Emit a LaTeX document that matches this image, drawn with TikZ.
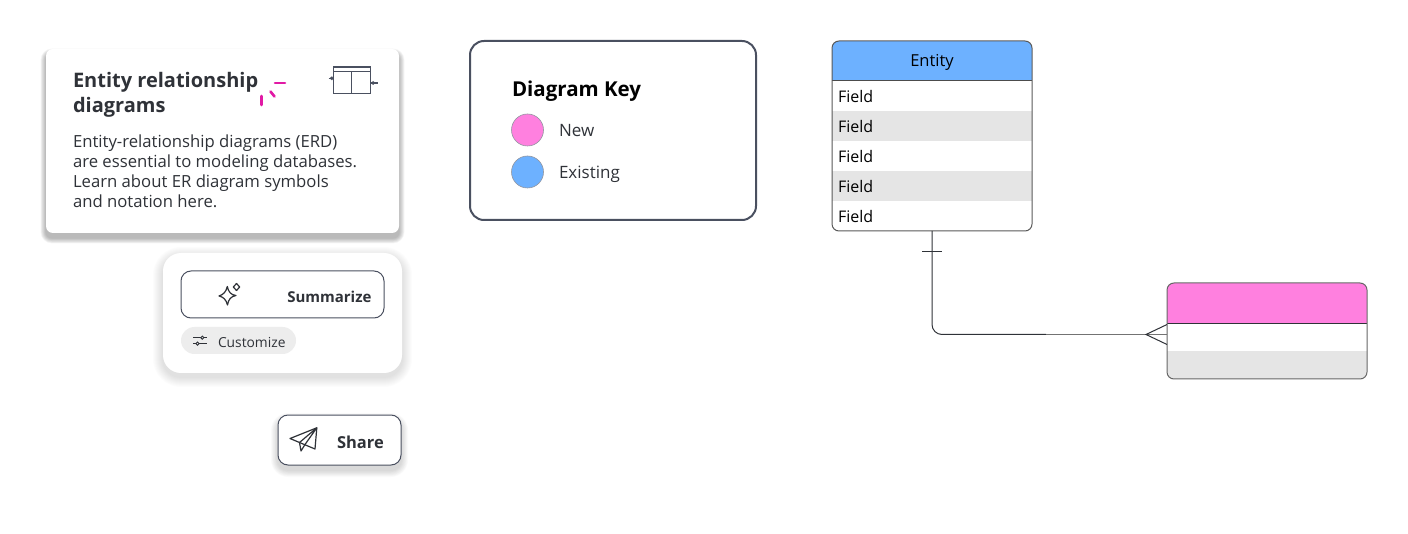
\documentclass[tikz,border=0pt]{standalone}
\usepackage{fontspec}
\setmainfont{Open Sans}
\usetikzlibrary{positioning}

\definecolor{inkdark}{HTML}{2F3238}
\definecolor{edgegrey}{HTML}{4A5060}
\definecolor{keypink}{HTML}{FF80DF}
\definecolor{keyblue}{HTML}{6DB1FF}
\definecolor{rowgrey}{HTML}{E5E5E5}
\definecolor{sparkpink}{HTML}{E11AA5}

\newcommand{\softshadow}[8]{% x1 y1 x2 y2 radius drop strength step
    \foreach \g in {1,...,10}
        \fill[black, opacity=#7, rounded corners=#5+\g*#8]
            (#1-\g*#8,#2-\g*#8+#6) rectangle (#3+\g*#8,#4+\g*#8+#6);
}

\tikzset{
    every node/.style={outer sep=0pt},
    lbl/.style={inner sep=0pt, anchor=base west, text=inkdark},
    card/.style={fill=white, rounded corners=#1},
    fieldrow/.style={minimum width=200pt, minimum height=30pt, inner xsep=6pt, inner ysep=0pt,
        anchor=north west, text width=188pt, align=left, font=\fontsize{16}{18}\selectfont},
    keydot/.style={circle, minimum size=32pt, inner sep=0pt, draw=edgegrey!60, line width=.6pt},
    icon/.style={draw=inkdark, line width=1.2pt, line join=round},
    spark/.style={sparkpink, line width=2.6pt, line cap=round},
    tabicon/.style={edgegrey, line width=1.2pt},
}

\begin{document}
\begin{tikzpicture}[x=1pt, y=-1pt]
    \useasboundingbox (0,0) rectangle (1408,534);

    % Overview card
    \softshadow{46}{49}{399}{233}{6}{5}{0.03}{0.55}
    \fill[card=7] (46,49) rectangle (399,233);
    \node[lbl, anchor=north west, align=left, font=\fontsize{20}{25}\selectfont\bfseries] (title) at (73,72)
        {Entity relationship\\diagrams};
    \node[lbl, anchor=north west, align=left, font=\fontsize{16.7}{20}\selectfont] (about) at (73,134.5)
        {Entity-relationship diagrams (ERD)\\are essential to modeling databases.\\Learn about ER diagram symbols\\and notation here.};

    % Spark next to the title
    \draw[spark] (275,83) -- (285,83);
    \draw[spark] (270.5,91.5) -- (274.5,96.5);
    \draw[spark] (261.7,96) -- (261.7,105);

    % Table icon
    \draw[tabicon] (333.5,67) rectangle (370.7,93.3);
    \draw[tabicon] (333.5,71.5) -- (370.7,71.5);
    \draw[tabicon] (351.7,71.5) -- (351.7,93.3);
    \draw[tabicon] (328.5,78.3) -- (333.5,78.3);
    \draw[tabicon] (370.7,83) -- (377.5,83);
    \fill[edgegrey] (329.5,78.3) -- (332,76.3) -- (333.5,78.3) -- (332,80.3) -- cycle;
    \fill[edgegrey] (371,83) -- (373,81) -- (375.5,83) -- (373,85) -- cycle;

    % Summarize panel
    \softshadow{163}{253}{402}{373}{18}{4}{0.01}{1}
    \fill[card=18] (163,253) rectangle (402,373);
    \node[draw=edgegrey, line width=1pt, rounded corners=10pt, minimum width=203pt, minimum height=47pt,
        inner sep=0pt, anchor=north west] (summarize) at (181,271) {};
    \node[lbl, anchor=base east, font=\fontsize{15}{18}\selectfont\bfseries] (sumtext) at (371.5,302.5) {Summarize};
    \draw[icon] (227.3,286.5) .. controls (228.5,292) and (231,295) .. (236,295.5)
        .. controls (231,296.5) and (228.5,299) .. (227.5,305)
        .. controls (226,299.5) and (223.5,297) .. (219,296)
        .. controls (223.5,294.5) and (226,292) .. (227.3,286.5) -- cycle;
    \draw[icon] (236.5,283.5) -- (239.7,287) -- (236.5,290.5) -- (233.3,287) -- cycle;

    % Customize pill
    \node[fill=black!7, rounded corners=13.5pt, minimum width=115pt, minimum height=27pt,
        inner sep=0pt, anchor=north west] (customize) at (181,327) {};
    \node[lbl, font=\fontsize{13.8}{16}\selectfont] (custext) at (218,347.5) {Customize};
    \draw[inkdark, line width=.9pt] (193,337.7) -- (206.5,337.7);
    \draw[inkdark, line width=.9pt, fill=black!7] (202.3,337.7) circle (1.6);
    \draw[inkdark, line width=.9pt] (193,343.7) -- (206.5,343.7);
    \draw[inkdark, line width=.9pt, fill=black!7] (197.5,343.7) circle (1.6);

    % Share button
    \softshadow{278}{415}{401}{465}{10}{5}{0.014}{0.7}
    \node[fill=white, draw=edgegrey, line width=1pt, rounded corners=10pt, minimum width=123pt, minimum height=50pt,
        inner sep=0pt, anchor=north west] (share) at (278,415) {};
    \node[lbl, font=\fontsize{16.5}{18}\selectfont\bfseries] (sharetext) at (337,448.5) {Share};
    \draw[icon] (290,438.5) -- (316.8,427.8) -- (315,449) -- (299.5,442.5) -- cycle;
    \draw[icon] (299.5,442.5) -- (316.8,427.8) -- (305,444.5) -- (301,451) -- (299.5,442.5);

    % Diagram key
    \node[draw=edgegrey, line width=2pt, rounded corners=14pt, minimum width=286pt, minimum height=179pt,
        inner sep=0pt, anchor=north west] (keybox) at (470,41) {};
    \node[lbl, text=black, font=\fontsize{20.5}{24}\selectfont\bfseries] (keytitle) at (512,97) {Diagram Key};
    \node[keydot, fill=keypink] (newdot) at (527.5,130) {};
    \node[keydot, fill=keyblue] (olddot) at (527.5,172) {};
    \node[lbl, font=\fontsize{17}{18}\selectfont] (newtext) at (559,136.5) {New};
    \node[lbl, font=\fontsize{17}{18}\selectfont] (oldtext) at (559,178.5) {Existing};

    % Entity table
    \begin{scope}
        \clip[rounded corners=7pt] (832,41) rectangle (1032,231);
        \node[fill=keyblue, minimum width=200pt, minimum height=40pt, inner sep=0pt, anchor=north west] (entityhead) at (832,41) {};
        \foreach \n/\ypos/\shade in {1/81/white, 2/111/rowgrey, 3/141/white, 4/171/rowgrey, 5/201/white}
            \node[fieldrow, fill=\shade, text depth=-1pt] (field\n) at (832,\ypos) {Field};
    \end{scope}
    \node[lbl, text=black, anchor=base, font=\fontsize{16.5}{18}\selectfont] (entitytext) at (932,67) {Entity};
    \draw[black!70, line width=1pt] (entityhead.south west) -- (entityhead.south east);
    \node[draw=black!65, line width=1pt, rounded corners=7pt, minimum width=200pt, minimum height=190pt,
        inner sep=0pt, anchor=north west] (entity) at (832,41) {};

    % Child table
    \begin{scope}
        \clip[rounded corners=7pt] (1167,283) rectangle (1367,379);
        \fill[keypink] (1167,283) rectangle (1367,323);
        \fill[rowgrey] (1167,351) rectangle (1367,379);
    \end{scope}
    \draw[inkdark, line width=1pt] (1167,323.5) -- (1367,323.5);
    \node[draw=black!60, line width=1pt, rounded corners=7pt, minimum width=200pt, minimum height=96pt,
        inner sep=0pt, anchor=north west] (child) at (1167,283) {};

    % Relationship
    \coordinate (bend) at (1046,334.5);
    \coordinate (foot) at (1167,334.5);
    \coordinate (crow) at (1146,334.5);
    \coordinate (crowup) at (1167,324.5);
    \coordinate (crowdown) at (1167,344.5);
    \coordinate (tickl) at (922,251.5);
    \coordinate (tickr) at (942,251.5);
    \draw[inkdark, line width=1pt, rounded corners=10pt] (entity.south) |- (bend);
    \draw[black!55, line width=1pt] (bend) -- (foot);
    \draw[inkdark, line width=1pt] (tickl) -- (tickr);
    \draw[inkdark, line width=1pt] (crowup) -- (crow) -- (crowdown);
\end{tikzpicture}
\end{document}
